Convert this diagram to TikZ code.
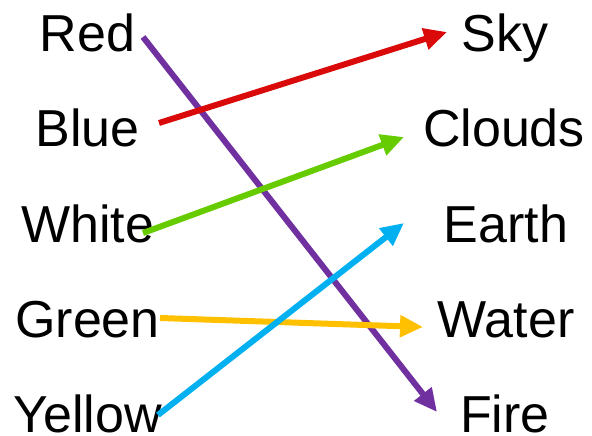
\documentclass[tikz,border=0pt]{standalone}
\usepackage{fontspec}
\setmainfont{Liberation Sans}
\usetikzlibrary{arrows.meta}
\definecolor{cpurple}{RGB}{112,48,160}
\definecolor{cred}{RGB}{218,10,10}
\definecolor{cgreen}{RGB}{102,204,0}
\definecolor{corange}{RGB}{255,192,0}
\definecolor{cblue}{RGB}{0,176,240}
\begin{document}
\begin{tikzpicture}[x=1pt,y=1pt,
  word/.style={anchor=base,inner sep=0pt,font=\fontsize{52}{60}\selectfont},
  link/.style={line width=6pt,-{Triangle[length=23pt,width=21pt]}}]
\useasboundingbox (0,0) rectangle (592,436);
% left words
\node[word] (red)    at (87.5,384) {Red};
\node[word] (blue)   at (87.5,289) {Blue};
\node[word] (white)  at (87.5,193) {White};
\node[word] (green)  at (87.5,98)  {Green};
\node[word] (yellow) at (87.5,3)   {Yellow};
% right words
\node[word] (sky)    at (505,384) {Sky};
\node[word] (clouds) at (504,289) {Clouds};
\node[word] (earth)  at (506,193) {Earth};
\node[word] (water)  at (506,98)  {Water};
\node[word] (fire)   at (505,3)   {Fire};
% connector end points
\coordinate (redS)    at (143,399);
\coordinate (blueS)   at (159,313);
\coordinate (whiteS)  at (143,203);
\coordinate (greenS)  at (160,118);
\coordinate (yellowS) at (158,21);
\coordinate (skyE)    at (447,404);
\coordinate (cloudsE) at (404,299);
\coordinate (earthE)  at (404,213);
\coordinate (waterE)  at (423,109);
\coordinate (fireE)   at (437,24);
% connectors
\draw[link,cpurple] (redS) -- (fireE);
\draw[link,cred] (blueS) -- (skyE);
\draw[link,cgreen] (whiteS) -- (cloudsE);
\draw[link,corange] (greenS) -- (waterE);
\draw[link,cblue] (yellowS) -- (earthE);
\end{tikzpicture}
\end{document}
